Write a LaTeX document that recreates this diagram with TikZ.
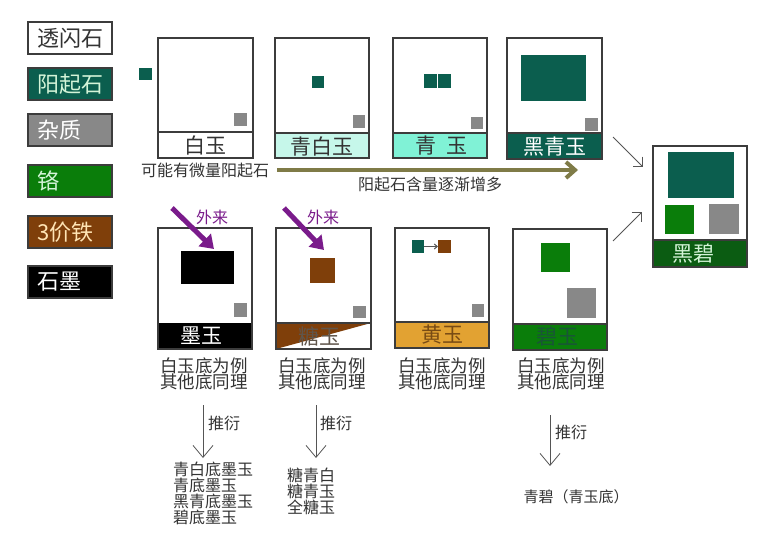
\documentclass[tikz,border=0pt]{standalone}
\usepackage{fontspec}
\newfontfamily\cjk{Noto Sans CJK SC}
\usetikzlibrary{arrows.meta}
\definecolor{jteal}{HTML}{0B5E4E}
\definecolor{jgray}{HTML}{888888}
\definecolor{jgreen}{HTML}{0A7D0A}
\definecolor{jbrown}{HTML}{7F3F0A}
\definecolor{framec}{HTML}{3C3C3C}
\definecolor{qbw}{HTML}{C6F7EA}
\definecolor{qyu}{HTML}{80F2D6}
\definecolor{hbi}{HTML}{0B5C12}
\definecolor{hyu}{HTML}{E2A232}
\definecolor{olivec}{HTML}{7F7B47}
\definecolor{purp}{HTML}{7A1B8B}
\definecolor{lgreen}{HTML}{D4F4D8}
\definecolor{txtc}{HTML}{333333}
\definecolor{arrc}{HTML}{555555}
\begin{document}
\begin{tikzpicture}[x=1pt,y=-1pt,
  every node/.style={font=\cjk, text=txtc, inner sep=0pt},
  legend/.style={draw=framec, line width=1.2pt, minimum width=84pt, minimum height=32pt,
    text width=66pt, inner xsep=9pt, align=left, font=\cjk\fontsize{22}{22}\selectfont},
  frame/.style={draw=framec, line width=1.2pt},
  bandlabel/.style={font=\cjk\fontsize{21}{21}\selectfont},
  caption/.style={font=\cjk\fontsize{16}{16}\selectfont},
  cap2/.style={font=\cjk\fontsize{17.5}{16.5}\selectfont, align=center},
  listtxt/.style={font=\cjk\fontsize{16}{16}\selectfont, align=left, anchor=north west},
  thinarrow/.style={draw=arrc, line width=0.8pt, -{Straight Barb[length=12pt,width=20pt]}},
  grayarrow/.style={draw=arrc, line width=1pt, -{Straight Barb[length=7pt,width=14pt]}},
  purparrow/.style={draw=purp, line width=5pt, -{Triangle[length=13pt,width=17pt]}},
]
\useasboundingbox (0,0) rectangle (781,548);
\fill[white] (0,0) rectangle (781,548);

% legend
\node[legend, fill=white] (lg1) at (70,38) {透闪石};
\node[legend, fill=jteal, text=lgreen] (lg2) at (70,84) {阳起石};
\node[legend, fill=jgray, text=white] (lg3) at (70,130) {杂质};
\node[legend, fill=jgreen, text=lgreen] (lg4) at (70,181) {铬};
\node[legend, fill=jbrown, text={rgb,255:red,255;green,228;blue,180}] (lg5) at (70,232) {3价铁};
\node[legend, fill=black, text=white] (lg6) at (70,282) {石墨};

% small teal square beside 白玉
\fill[jteal] (139,68) rectangle (152,80);

% ---------- top row ----------
% 白玉
\fill[white] (158,38) rectangle (253,158);
\fill[jgray] (234,113) rectangle (247,126);
\draw[frame] (158,38) rectangle (253,158);
\draw[frame] (158,132) -- (253,132);
\node[bandlabel] (lbai) at (205.5,145.5) {白玉};
\node[caption] (cbai) at (205,170) {可能有微量阳起石};

% 青白玉
\fill[qbw] (275,133) rectangle (369,158);
\fill[jteal] (312,76) rectangle (324,88);
\fill[jgray] (353,115) rectangle (365,128);
\draw[frame] (275,38) rectangle (369,158);
\draw[frame] (275,133) -- (369,133);
\node[bandlabel] (lqbw) at (322,146) {青白玉};

% 青玉
\fill[qyu] (393,133) rectangle (487,158);
\fill[jteal] (424,74) rectangle (437,88);
\fill[jteal] (438,74) rectangle (451,88);
\fill[jgray] (471,117) rectangle (483,129);
\draw[frame] (393,38) rectangle (487,158);
\draw[frame] (393,133) -- (487,133);
\node[bandlabel] (lqy) at (441,146) {青\hspace{10pt}玉};

% 黑青玉
\fill[jteal] (507,133) rectangle (602,159);
\fill[jteal] (521,55) rectangle (586,101);
\fill[jgray] (585,118) rectangle (598,131);
\draw[frame] (507,38) rectangle (602,159);
\draw[frame] (507,133) -- (602,133);
\node[bandlabel, text=white] (lhqy) at (555,146.5) {黑青玉};

% olive arrow
\coordinate (oa1) at (277,170);
\coordinate (oa2) at (578,170);
\draw[draw=olivec, line width=4pt, -{Straight Barb[length=9pt,width=16pt]}] (oa1) -- (oa2);
\node[caption] (cyq) at (430,184) {阳起石含量逐渐增多};

% 黑碧
\fill[hbi] (653,240) rectangle (747,267);
\fill[jteal] (668,152) rectangle (734,198);
\fill[jgreen] (665,205) rectangle (694,234);
\fill[jgray] (709,204) rectangle (739,234);
\draw[frame] (653,146) rectangle (747,267);
\draw[frame] (653,240) -- (747,240);
\node[bandlabel, text=lgreen] (lhb) at (693,254) {黑碧};

\coordinate (g1s) at (613,137);
\coordinate (g1e) at (643,167);
\coordinate (g2s) at (613,241);
\coordinate (g2e) at (642,212);
\draw[grayarrow] (g1s) -- (g1e);
\draw[grayarrow] (g2s) -- (g2e);

% ---------- bottom row ----------
% 墨玉
\fill[black] (158,323) rectangle (252,349);
\fill[black] (181,251) rectangle (234,284);
\fill[jgray] (234,303) rectangle (247,317);
\draw[frame] (158,228) rectangle (252,349);
\node[bandlabel, text=white] (lmo) at (201,336) {墨玉};
\coordinate (p1s) at (172,208);
\coordinate (p1e) at (214,249);
\draw[purparrow] (p1s) -- (p1e);
\node[caption, text=purp] (wl1) at (212,217) {外来};
\node[cap2] (cmo) at (204,374) {白玉底为例\\其他底同理};

% 糖玉
\fill[jbrown] (276,323) -- (371,323) -- (276,349) -- cycle;
\fill[jbrown] (310,258) rectangle (335,283);
\fill[jgray] (353,306) rectangle (366,318);
\draw[frame] (276,228) rectangle (371,349);
\draw[frame] (276,323) -- (371,323);
\node[bandlabel, text={rgb,255:red,95;green,85;blue,75}] (ltang) at (319,336.5) {糖玉};
\coordinate (p2s) at (284,208);
\coordinate (p2e) at (324,250);
\draw[purparrow] (p2s) -- (p2e);
\node[caption, text=purp] (wl2) at (323,217) {外来};
\node[cap2] (ctang) at (322,374) {白玉底为例\\其他底同理};

% 黄玉
\fill[hyu] (395,322) rectangle (489,348);
\fill[jteal] (412,240) rectangle (424,253);
\fill[jbrown] (438,240) rectangle (451,253);
\fill[jgray] (472,304) rectangle (484,317);
\draw[frame] (395,228) rectangle (489,348);
\draw[frame] (395,322) -- (489,322);
\coordinate (y1) at (424,246.5);
\coordinate (y2) at (438,246.5);
\draw[draw=arrc, line width=1pt, -{Straight Barb[length=3pt,width=5pt]}] (y1) -- (y2);
\node[bandlabel, text={rgb,255:red,120;green,75;blue,20}] (lhy) at (442,335) {黄玉};
\node[cap2] (chy) at (442,374) {白玉底为例\\其他底同理};

% 碧玉
\fill[jgreen] (513,324) rectangle (607,350);
\fill[jgreen] (541,243) rectangle (570,272);
\fill[jgray] (567,288) rectangle (596,318);
\draw[frame] (513,229) rectangle (607,350);
\draw[frame] (513,324) -- (607,324);
\node[bandlabel, text={rgb,255:red,25;green,85;blue,55}] (lby) at (557,337) {碧玉};
\node[cap2] (cby) at (561,374) {白玉底为例\\其他底同理};

% ---------- derivations ----------
\coordinate (d1s) at (203,405);
\coordinate (d1e) at (203,458);
\draw[thinarrow] (d1s) -- (d1e);
\node[caption] (t1) at (224,423) {推衍};
\node[listtxt] (list1) at (173,462) {青白底墨玉\\青底墨玉\\黑青底墨玉\\碧底墨玉};

\coordinate (d2s) at (316,405);
\coordinate (d2e) at (316,458);
\draw[thinarrow] (d2s) -- (d2e);
\node[caption] (t2) at (336,423) {推衍};
\node[listtxt] (list2) at (287,468) {糖青白\\糖青玉\\全糖玉};

\coordinate (d3s) at (550,415);
\coordinate (d3e) at (550,466);
\draw[thinarrow] (d3s) -- (d3e);
\node[caption] (t3) at (571,432) {推衍};
\node[font=\cjk\fontsize{15}{15}\selectfont] (qb) at (576,497) {青碧（青玉底）};
\end{tikzpicture}
\end{document}
